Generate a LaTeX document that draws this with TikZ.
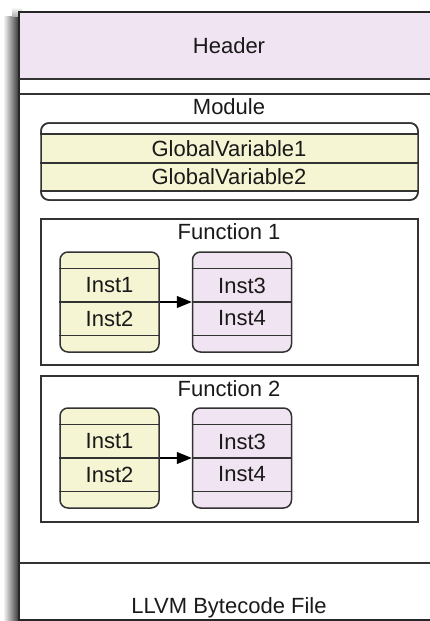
\documentclass[tikz,border=0pt]{standalone}
\usepackage{fontspec}
\setmainfont{Liberation Sans}
\usetikzlibrary{arrows.meta}
\definecolor{hdrpink}{HTML}{F1E4F2}
\definecolor{gvyellow}{HTML}{F5F5D3}
\definecolor{lne}{HTML}{333333}
\tikzset{
  lbl/.style={inner sep=0pt, text=black!90, font=\fontsize{22}{26}\selectfont},
  thinline/.style={draw=lne, line width=1.4pt},
  instbox/.style={draw=lne, line width=1.5pt, rounded corners=8pt, minimum width=99pt, minimum height=100pt, inner sep=0pt},
  fbox/.style={draw=lne, line width=1.3pt, minimum width=377pt, minimum height=146pt, inner sep=0pt},
  gvframe/.style={draw=lne, line width=1.5pt, rounded corners=8pt, minimum width=377pt, minimum height=77pt, inner sep=0pt},
  flow/.style={draw=black, line width=1.1pt, -{Triangle[length=15pt,width=12pt]}}
}
\begin{document}
\begin{tikzpicture}[x=1pt,y=-1pt]
\useasboundingbox (0,0) rectangle (430,621);
\begin{scope}
\clip (0,0) rectangle (430,621);
% shadow
\shade[left color=white, right color=black!80] (3,16) rectangle (19,640);
\shade[top color=white, bottom color=black!30] (12,7) rectangle (22,16);
% outer file box
\fill[hdrpink] (19,12) rectangle (439,79);
\draw[draw=black!85, line width=2.2pt] (19,12) rectangle (439,620);
\draw[thinline] (19,79) -- (439,79);
\draw[thinline] (19,94) -- (439,94);
\draw[thinline] (19,563) -- (439,563);
\end{scope}
\node[lbl] (hdr) at (229,46) {Header};
\node[lbl] (mod) at (229,107) {Module};
\node[lbl] (llvm) at (229,608) {LLVM Bytecode File};
% globals
\node[gvframe] (gv) at (229.5,161.5) {};
\fill[gvyellow] (gv.west |- 0,134) rectangle (gv.east |- 0,191);
\draw[thinline] (gv.west |- 0,134) -- (gv.east |- 0,134);
\draw[thinline] (gv.west |- 0,163) -- (gv.east |- 0,163);
\draw[thinline] (gv.west |- 0,191) -- (gv.east |- 0,191);
\node[gvframe] at (gv) {};
\node[lbl] (gv1) at (229,148.5) {GlobalVariable1};
\node[lbl] (gv2) at (229,177) {GlobalVariable2};
% function 1
\node[fbox] (f1) at (229.5,292) {};
\node[lbl] (f1t) at (229,232) {Function 1};
\node[instbox, fill=gvyellow] (a1) at (109.5,302) {};
\node[instbox, fill=hdrpink] (a2) at (242,302) {};
\foreach \b in {a1,a2}{
  \draw[thinline] ([yshift=-17pt]\b.north west) -- ([yshift=-17pt]\b.north east);
  \draw[thinline] (\b.west) -- (\b.east);
  \draw[thinline] ([yshift=17pt]\b.south west) -- ([yshift=17pt]\b.south east);
}
\node[lbl] (a1i1) at (109.5,285.5) {Inst1};
\node[lbl] (a1i2) at (109.5,318.5) {Inst2};
\node[lbl] (a2i3) at (242,285.5) {Inst3};
\node[lbl] (a2i4) at (242,318.5) {Inst4};
\draw[flow] (a1.east) -- (a2.west);
% function 2
\node[fbox] (f2) at (229.5,449) {};
\node[lbl] (f2t) at (229,389) {Function 2};
\node[instbox, fill=gvyellow] (b1) at (109.5,458) {};
\node[instbox, fill=hdrpink] (b2) at (242,458) {};
\foreach \b in {b1,b2}{
  \draw[thinline] ([yshift=-17pt]\b.north west) -- ([yshift=-17pt]\b.north east);
  \draw[thinline] (\b.west) -- (\b.east);
  \draw[thinline] ([yshift=17pt]\b.south west) -- ([yshift=17pt]\b.south east);
}
\node[lbl] (b1i1) at (109.5,441.5) {Inst1};
\node[lbl] (b1i2) at (109.5,474.5) {Inst2};
\node[lbl] (b2i3) at (242,441.5) {Inst3};
\node[lbl] (b2i4) at (242,474.5) {Inst4};
\draw[flow] (b1.east) -- (b2.west);
\end{tikzpicture}
\end{document}
